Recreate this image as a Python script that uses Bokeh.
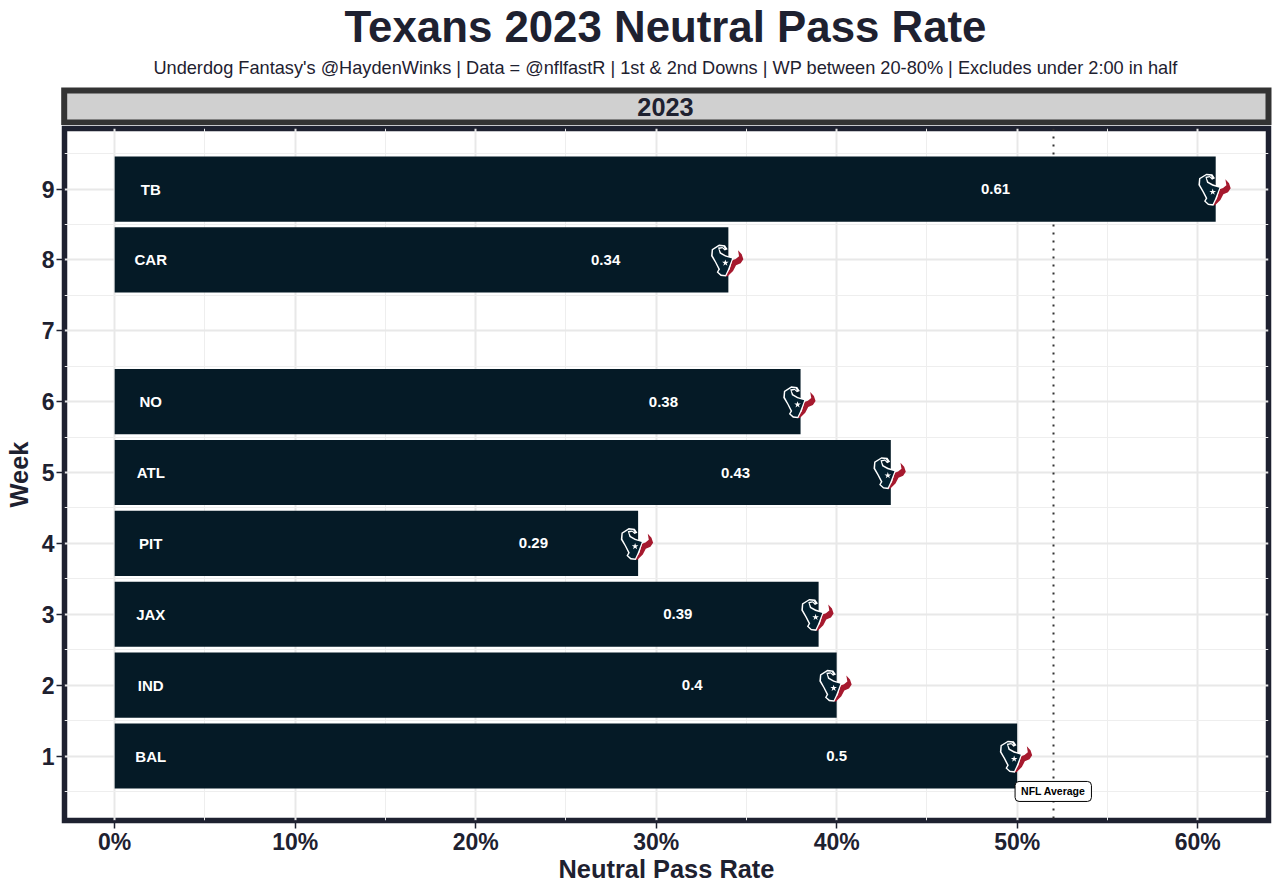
from bokeh.plotting import figure
from bokeh.layouts import column
from bokeh.models import (ColumnDataSource, FixedTicker, Label, Range1d)
from bokeh.core.properties import value
from bokeh.embed import file_html
from bokeh.resources import INLINE

# ---- data ----
weeks = [9, 8, 6, 5, 4, 3, 2, 1]
opponents = ["TB", "CAR", "NO", "ATL", "PIT", "JAX", "IND", "BAL"]
pass_rate = [0.61, 0.34, 0.38, 0.43, 0.29, 0.39, 0.40, 0.50]
rate_labels = ["0.61", "0.34", "0.38", "0.43", "0.29", "0.39", "0.4", "0.5"]
week_ticks = [1, 2, 3, 4, 5, 6, 7, 8, 9]
rate_ticks = [0.0, 0.1, 0.2, 0.3, 0.4, 0.5, 0.6]
rate_tick_labels = ["0%", "10%", "20%", "30%", "40%", "50%", "60%"]
nfl_average = 0.52
title_text = "Texans 2023 Neutral Pass Rate"
subtitle_text = ("Underdog Fantasy's @HaydenWinks | Data = @nflfastR | 1st & 2nd Downs | "
                 "WP between 20-80% | Excludes under 2:00 in half")
strip_text = "2023"

FONT = "Liberation Sans"
INK = "#1E2130"
BAR = "#051A26"

# ---- pixel scale of the main panel ----
FRAME_W, FRAME_H = 1204, 692
x_lo, x_hi = -0.02780, 0.63925
y_lo, y_hi = 0.090, 9.854
px_x = (x_hi - x_lo) / FRAME_W
px_y = (y_hi - y_lo) / FRAME_H

# ---- logo outline, in pixel offsets around the bar end ----
def z(points):
    return [(a / 3 - 56, b / 3 - 39) for a, b in points]

head = z([(140, 71), (158, 73), (166, 85), (157, 89), (150, 82), (141, 84), (146, 95),
          (160, 103), (176, 108), (184, 110), (178, 125), (170, 148), (161, 167),
          (145, 165), (133, 154), (138, 145), (128, 125), (116, 105), (118, 85)])
head_in = z([(140, 76), (153, 77), (158, 84), (150, 78), (137, 80), (142, 98),
             (158, 107), (179, 113), (174, 126), (166, 147), (159, 162), (147, 161),
             (138, 153), (143, 145), (132, 124), (121, 104), (122, 87)])
horn = z([(197, 88), (208, 100), (213, 115), (205, 127), (191, 133), (182, 150),
          (166, 166), (159, 166), (172, 145), (180, 118), (190, 114), (200, 106)])


def logo_patches(shape):
    xs, ys = [], []
    for w, r in zip(weeks, pass_rate):
        xs.append([r + dx * px_x for dx, _ in shape])
        ys.append([w - dy * px_y for _, dy in shape])
    return xs, ys


# ---- top figure: titles and facet strip, on a canvas-sized pixel scale ----
top = figure(width=1272, height=125, x_range=Range1d(0, 1272), y_range=Range1d(125, 0),
             min_border=0, output_backend="svg", toolbar_location=None,
             background_fill_color="white", border_fill_color="white",
             outline_line_color=None, frame_align=False)
top.xaxis.visible = False
top.yaxis.visible = False
top.grid.visible = False
top.quad(left=[63.7], right=[1268], top=[90], bottom=[122], fill_color="#D0D0D0",
         line_color="#333333", line_width=6, line_join="miter")
for txt, y, size, style in ((title_text, 26, "43.8px", "bold"),
                            (subtitle_text, 67, "18.2px", "normal"),
                            (strip_text, 106, "25.3px", "bold")):
    top.text(x=[665], y=[y], text=[txt], text_align="center", text_baseline="middle",
             text_font=value(FONT), text_font_size=size, text_font_style=style, text_color=INK)

# ---- main panel ----
p = figure(width=1272, height=759, frame_width=FRAME_W, frame_height=FRAME_H,
           x_range=Range1d(x_lo, x_hi), y_range=Range1d(y_lo, y_hi),
           min_border_left=64, min_border_right=4, min_border_top=3, min_border_bottom=10,
           output_backend="svg", toolbar_location=None,
           background_fill_color="white", border_fill_color="white",
           outline_line_color=INK, outline_line_width=5.5, outline_line_join="miter",
           frame_align=False,
           x_axis_label="Neutral Pass Rate", y_axis_label="Week")

p.xaxis.ticker = FixedTicker(ticks=rate_ticks, minor_ticks=[t + 0.05 for t in rate_ticks])
p.yaxis.ticker = FixedTicker(ticks=week_ticks, minor_ticks=[t + 0.5 for t in [0] + week_ticks])
p.xaxis.major_label_overrides = dict(zip(rate_ticks, rate_tick_labels))
for ax in (p.xaxis[0], p.yaxis[0]):
    ax.axis_line_color = None
    ax.minor_tick_line_color = None
    ax.major_tick_line_color = INK
    ax.major_tick_line_width = 1.5
    ax.major_tick_out = 8
    ax.major_tick_in = 0
    ax.major_label_text_font = FONT
    ax.major_label_text_font_style = "bold"
    ax.major_label_text_font_size = "23px"
    ax.major_label_text_color = INK
    ax.axis_label_text_font = FONT
    ax.axis_label_text_font_style = "bold"
    ax.axis_label_text_font_size = "25.4px"
    ax.axis_label_text_color = INK
p.xaxis.major_label_standoff = 0
p.yaxis.major_label_standoff = 2
p.xaxis.axis_label_standoff = -3
p.yaxis.axis_label_standoff = 6

for g in (p.xgrid[0], p.ygrid[0]):
    g.grid_line_color = "#E8E8E8"
    g.grid_line_width = 2
    g.minor_grid_line_color = "#EEEEEE"
    g.minor_grid_line_width = 1

source = ColumnDataSource(dict(
    week=weeks, opp=opponents, rate=pass_rate, label=rate_labels,
    label_x=[r * 0.8 for r in pass_rate], opp_x=[0.02] * len(weeks)))

p.vspan(x=[nfl_average], line_color="#333333", line_width=2, line_dash="2 6")
p.hbar(y="week", left=0, right="rate", height=0.92, source=source,
       fill_color=BAR, line_color=None)

for shape, fill in ((horn, "#A6192E"), (head, "white"), (head_in, "#03202F")):
    xs, ys = logo_patches(shape)
    p.patches(xs, ys, fill_color=fill, line_color=None)
p.scatter(x=[r - 3 * px_x for r in pass_rate], y=[w - 3 * px_y for w in weeks],
          marker="star", size=7, fill_color="white", line_color=None)

p.text(x="opp_x", y="week", text="opp", source=source, text_align="center",
       text_baseline="middle", text_font=value(FONT), text_font_size="15px",
       text_font_style="bold", text_color="white")
p.text(x="label_x", y="week", text="label", source=source, text_align="center",
       text_baseline="middle", text_font=value(FONT), text_font_size="15px",
       text_font_style="bold", text_color="white")

p.add_layout(Label(x=nfl_average, y=0.5, text="NFL Average", text_align="center",
                   text_baseline="middle", text_font=FONT, text_font_size="10.5px",
                   text_font_style="bold", text_color="black",
                   background_fill_color="white", border_line_color="black",
                   border_line_width=1, border_radius=4, padding=(6, 4)))

layout = column(top, p, spacing=0)
open("out.html", "w").write(file_html(layout, INLINE))
